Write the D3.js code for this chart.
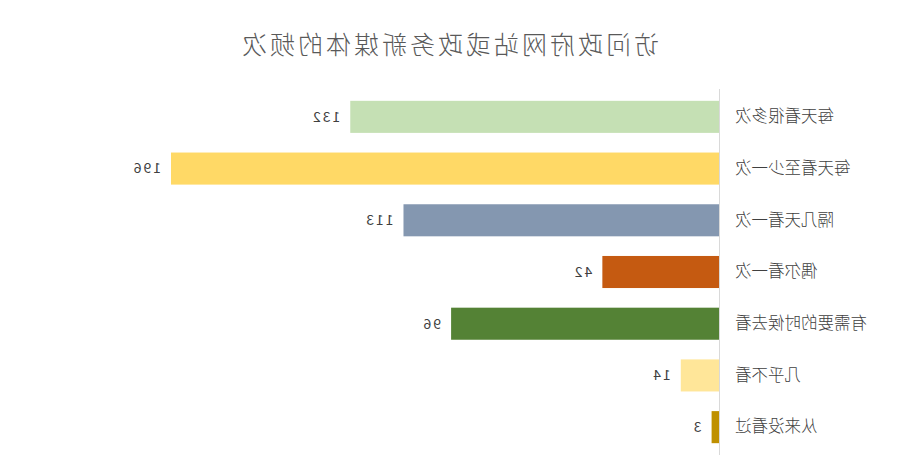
<!DOCTYPE html>
<html>
<head>
<meta charset="utf-8">
<script src="https://cdn.jsdelivr.net/npm/d3@7"></script>
<style>
  body { margin: 0; background: #fff; }
  svg { display: block; transform: scaleX(-1); }
</style>
</head>
<body>
<div id="chart"></div>
<script>
// data
var categories = ['每天看很多次', '每天看至少一次', '隔几天看一次', '偶尔看一次', '有需要的时候去看', '几乎不看', '从来没看过'];
var counts = [132, 196, 113, 42, 96, 14, 3];
var colors = ['#C5E0B4', '#FFD966', '#8497B0', '#C55A11', '#548235', '#FFE699', '#BF9000'];
var title = '访问政府网站或政务新媒体的频次';

var width = 904,
    height = 475,
    margin = { top: 91, right: 130, bottom: 22, left: 184 };

var svg = d3.select('#chart').append('svg')
    .attr('width', width)
    .attr('height', height);

var x = d3.scaleLinear()
    .domain([0, 196])
    .range([margin.left, margin.left + 549]);

var y = d3.scaleBand()
    .domain(categories)
    .range([margin.top, height - margin.bottom])
    .paddingInner(0.38)
    .paddingOuter(0.19);

var font = '"Noto Sans CJK SC", "Microsoft YaHei", sans-serif';

svg.append('text')
    .attr('x', 455)
    .attr('y', 54)
    .attr('text-anchor', 'middle')
    .style('font-family', font)
    .style('font-size', '25px')
    .style('font-weight', 300)
    .style('letter-spacing', '3px')
    .style('fill', '#595959')
    .text(title);

svg.selectAll('.bar')
    .data(counts)
    .enter().append('rect')
    .attr('class', 'bar')
    .attr('x', x(0))
    .attr('y', function (d, i) { return y(categories[i]); })
    .attr('width', function (d) { return x(d) - x(0); })
    .attr('height', y.bandwidth())
    .attr('fill', function (d, i) { return colors[i]; });

// value labels
svg.selectAll('.val')
    .data(counts)
    .enter().append('text')
    .attr('class', 'val')
    .attr('x', function (d) { return x(d) + 10; })
    .attr('y', function (d, i) { return y(categories[i]) + y.bandwidth() / 2; })
    .attr('dy', '0.35em')
    .style('font-family', font)
    .style('font-size', '14px')
    .style('letter-spacing', '2px')
    .style('fill', '#404040')
    .text(function (d) { return d; });

// category axis
var axis = svg.append('g')
    .attr('transform', 'translate(' + margin.left + ',0)')
    .call(d3.axisLeft(y).tickSize(0).tickPadding(15));

axis.select('.domain')
    .attr('stroke', '#d9d9d9')
    .attr('d', 'M0.5,' + (margin.top - 2) + 'V' + (height - margin.bottom + 2));

axis.selectAll('text')
    .style('font-family', font)
    .style('font-size', '16.5px')
    .style('font-weight', 300)
    .style('fill', '#404040');
</script>
</body>
</html>
